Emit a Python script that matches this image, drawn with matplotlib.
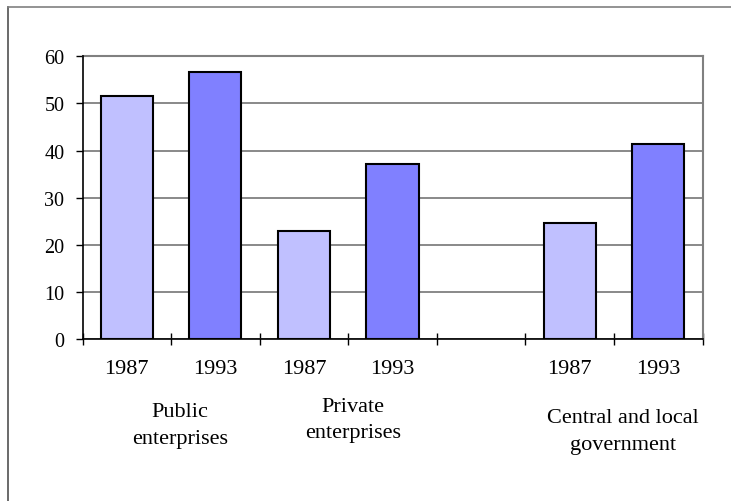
import matplotlib.pyplot as plt
import numpy as np
from matplotlib.lines import Line2D

# share by sector, 1987 vs 1993
sectors = ['Public\nenterprises', 'Private\nenterprises', 'Central and local\ngovernment']
years = ['1987', '1993']
share_1987 = [51.5, 23.0, 24.7]
share_1993 = [56.7, 37.1, 41.3]

# first slot of each sector on the category axis (slot 4 is left empty)
group_start = np.array([0, 2, 5])
n_slots = 7

plt.rcParams['font.family'] = ['Liberation Serif', 'DejaVu Serif']

fig = plt.figure(figsize=(7.31, 5.02), dpi=100)
ax = fig.add_axes([82.5 / 731, 1 - 340 / 502, 620 / 731, 282.7 / 502])

w = 1 / 1.7
ax.bar(group_start, share_1987, width=w, color='#C0C0FF', edgecolor='black',
       linewidth=1.5, zorder=3)
ax.bar(group_start + 1, share_1993, width=w, color='#8080FF', edgecolor='black',
       linewidth=1.5, zorder=3)

ax.set_xlim(-0.5, n_slots - 0.5)
ax.set_ylim(0, 60)
ax.set_yticks(range(0, 61, 10))
ax.yaxis.grid(True, color='#808080', linewidth=1.3, zorder=0)
ax.tick_params(axis='y', direction='out', length=5, width=1, labelsize=14.5,
               pad=8, color='black')

# category boundaries as crossing ticks, no labels
ax.set_xticks(np.arange(-0.5, n_slots, 1.0))
ax.set_xticklabels([])
ax.tick_params(axis='x', direction='inout', length=8, width=1, color='black')

for sp in ['top', 'right']:
    ax.spines[sp].set_color('#808080')
    ax.spines[sp].set_linewidth(1.5)
ax.spines['left'].set_color('black')
ax.spines['bottom'].set_color('black')
ax.spines['left'].set_linewidth(1.2)
ax.spines['bottom'].set_linewidth(1.2)
ax.spines['left'].set_zorder(4)
ax.spines['bottom'].set_zorder(4)

tr = ax.get_xaxis_transform()
for g in group_start:
    for k, yr in enumerate(years):
        ax.text(g + k, -0.105, yr, transform=tr, ha='center', va='center',
                fontsize=16)

label_x = [0.6, 2.55, 5.6]
label_y = [-0.305, -0.285, -0.325]
for name, lx, ly in zip(sectors, label_x, label_y):
    ax.text(lx, ly, name, transform=tr, ha='center', va='center',
            fontsize=16, linespacing=1.55)

# outer frame
fig.add_artist(Line2D([7.5 / 731, 7.5 / 731], [1 - 7.5 / 502, 0],
                      transform=fig.transFigure, color='#505050', linewidth=1.2))
fig.add_artist(Line2D([7.5 / 731, 1], [1 - 7.5 / 502, 1 - 7.5 / 502],
                      transform=fig.transFigure, color='#808080', linewidth=1.2))

fig.savefig('out.png', dpi=100)
